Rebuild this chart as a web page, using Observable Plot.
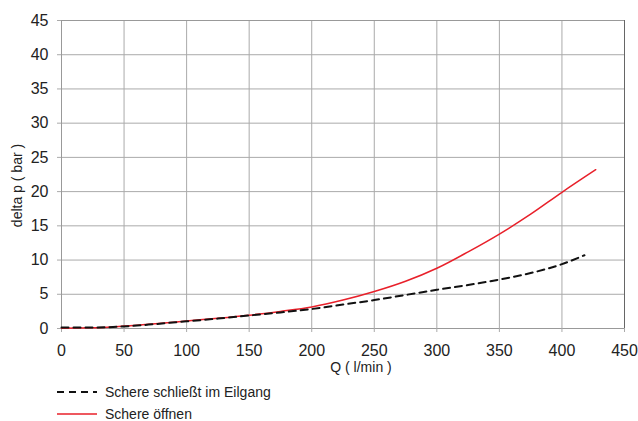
<!DOCTYPE html>
<html>
<head>
<meta charset="utf-8">
<script src="https://cdn.jsdelivr.net/npm/d3@7"></script>
<script src="https://cdn.jsdelivr.net/npm/@observablehq/plot@0.6"></script>
<style>
  body { margin: 0; background: #fff; font-family: "Liberation Sans", Arial, sans-serif; }
  #chart { position: relative; width: 638px; height: 421px; }
  .legend { position: absolute; left: 57px; font-size: 14px; color: #222; }
  .legend .row { display: flex; align-items: center; height: 22px; }
  .legend svg { margin-right: 8px; }
</style>
</head>
<body>
<div id="chart"></div>
<script>
const qClose = [0, 25, 50, 75, 100, 125, 150, 175, 200, 225, 250, 275, 300, 325, 350, 375, 400, 418];
const dpClose = [0.15, 0.15, 0.3, 0.65, 1.05, 1.45, 1.9, 2.35, 2.85, 3.5, 4.15, 4.9, 5.65, 6.35, 7.15, 8.1, 9.4, 10.7];
const qOpen = [0, 25, 50, 75, 100, 125, 150, 175, 200, 225, 250, 275, 300, 325, 350, 375, 400, 427];
const dpOpen = [0.05, 0.1, 0.35, 0.7, 1.1, 1.5, 1.95, 2.5, 3.15, 4.15, 5.4, 6.9, 8.8, 11.2, 13.8, 16.7, 19.9, 23.2];
const seriesNames = ["Schere schließt im Eilgang", "Schere öffnen"];
const xTicks = [0, 50, 100, 150, 200, 250, 300, 350, 400, 450];
const yTicks = [0, 5, 10, 15, 20, 25, 30, 35, 40, 45];

const closeData = qClose.map((q, i) => ({q, dp: dpClose[i]}));
const openData = qOpen.map((q, i) => ({q, dp: dpOpen[i]}));

const plot = Plot.plot({
  width: 638,
  height: 375,
  marginLeft: 61,
  marginRight: 14,
  marginTop: 20,
  marginBottom: 47,
  style: { fontFamily: "Liberation Sans, Arial, sans-serif", fontSize: "16px", color: "#222", background: "#fff" },
  x: { domain: [0, 450], ticks: xTicks, label: null },
  y: { domain: [0, 45], ticks: yTicks, label: null },
  marks: [
    Plot.gridX(xTicks, { stroke: "#aaa", strokeOpacity: 1 }),
    Plot.gridY(yTicks, { stroke: "#aaa", strokeOpacity: 1 }),
    Plot.frame({ stroke: "#999" }),
    Plot.ruleX([450], { stroke: "#666" }),
    Plot.axisX({ ticks: xTicks, tickSize: 4, tickPadding: 12, stroke: "#aaa", label: null, fontSize: 16 }),
    Plot.axisY({ ticks: yTicks, tickSize: 4, tickPadding: 9, stroke: "#aaa", label: null, fontSize: 16 }),
    Plot.line(openData, { x: "q", y: "dp", stroke: "#e8202a", strokeWidth: 1.5, curve: "monotone-x" }),
    Plot.line(closeData, { x: "q", y: "dp", stroke: "#111", strokeWidth: 2, strokeDasharray: "7,5", curve: "monotone-x" }),
    Plot.text(["Q ( l/min )"], { frameAnchor: "bottom", dy: 43, dx: 18, fontSize: 14 }),
    Plot.text(["delta p ( bar )"], { frameAnchor: "left", textAnchor: "middle", dx: -44, dy: 11, rotate: -90, fontSize: 14 })
  ]
});
const chart = document.getElementById("chart");
chart.appendChild(plot);

const legend = document.createElement("div");
legend.className = "legend";
legend.style.top = "381px";
const styles = [
  { stroke: "#111", dash: "7,5", w: 2 },
  { stroke: "#e8202a", dash: null, w: 1.5 }
];
seriesNames.forEach((name, i) => {
  const row = document.createElement("div");
  row.className = "row";
  const s = styles[i];
  row.innerHTML = `<svg width="40" height="6"><line x1="0" y1="3" x2="40" y2="3" stroke="${s.stroke}" stroke-width="${s.w}" ${s.dash ? `stroke-dasharray="${s.dash}"` : ""}/></svg><span>${name}</span>`;
  legend.appendChild(row);
});
chart.appendChild(legend);
</script>
</body>
</html>
